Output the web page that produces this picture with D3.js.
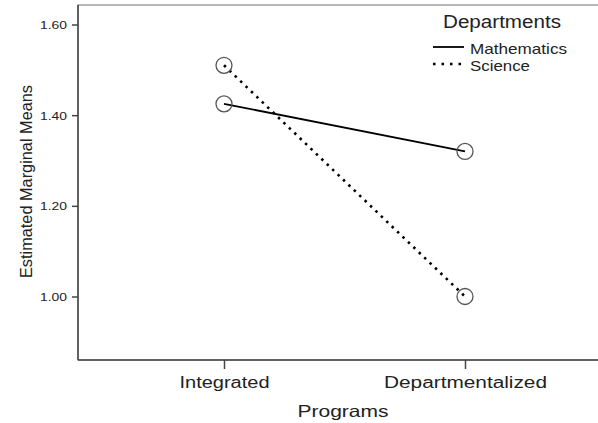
<!DOCTYPE html>
<html>
<head>
<meta charset="utf-8">
<script src="https://cdn.jsdelivr.net/npm/d3@7"></script>
<style>
  body { margin: 0; background: #fff; }
  text { font-family: "Liberation Sans", Arial, sans-serif; }
</style>
</head>
<body>
<div id="chart-area"></div>
<script>
const programs = ["Integrated", "Departmentalized"];
const departments = ["Mathematics", "Science"];
const mathMeans = [1.425, 1.32];
const scienceMeans = [1.51, 1.0];
const yTicks = [1.0, 1.2, 1.4, 1.6];

const width = 598, height = 423;
const plot = { left: 78, right: 598, top: 5, bottom: 360 };
const font = "Liberation Sans, Arial, sans-serif";

const svg = d3.select("#chart-area").append("svg")
    .attr("width", width)
    .attr("height", height);

const x = d3.scalePoint().domain(programs).range([224, 465]);
const y = d3.scaleLinear().domain([1.0, 1.6]).range([296.5, 24.5]);

// frame
svg.append("rect")
    .attr("x", plot.left).attr("y", plot.top)
    .attr("width", plot.right - plot.left + 2).attr("height", plot.bottom - plot.top)
    .attr("fill", "none").attr("stroke", "#888").attr("stroke-width", 1.2);

const yAxis = svg.append("g")
    .attr("transform", `translate(${plot.left},0)`)
    .call(d3.axisLeft(y).tickValues(yTicks).tickFormat(d3.format(".2f")).tickSize(6).tickSizeOuter(0));
yAxis.select(".domain").remove();
yAxis.append("line").attr("x1", 0).attr("x2", 0).attr("y1", plot.top).attr("y2", plot.bottom)
    .attr("stroke", "#444").attr("stroke-width", 1.5);
yAxis.selectAll(".tick line").attr("stroke", "#444").attr("stroke-width", 1.5);
yAxis.selectAll(".tick text")
    .attr("font-size", 11.5).attr("fill", "#222").attr("x", -11).attr("dy", "0.36em")
    .attr("textLength", 27).attr("lengthAdjust", "spacingAndGlyphs")
    .style("font-family", font);

const xAxis = svg.append("g")
    .attr("transform", `translate(0,${plot.bottom})`)
    .call(d3.axisBottom(x).tickSize(9).tickSizeOuter(0));
xAxis.select(".domain").remove();
xAxis.append("line").attr("x1", plot.left).attr("x2", plot.right).attr("y1", 0).attr("y2", 0)
    .attr("stroke", "#444").attr("stroke-width", 1.5);
xAxis.selectAll(".tick line").attr("stroke", "#444").attr("stroke-width", 1.5);
xAxis.selectAll(".tick text")
    .attr("font-size", 16).attr("fill", "#222").attr("y", 28).attr("dy", null)
    .attr("textLength", d => d === "Integrated" ? 90 : 163)
    .attr("lengthAdjust", "spacingAndGlyphs")
    .style("font-family", font);

svg.append("text")
    .attr("x", 343).attr("y", 417)
    .attr("text-anchor", "middle").attr("font-size", 16.5).attr("fill", "#222")
    .attr("textLength", 91).attr("lengthAdjust", "spacingAndGlyphs")
    .text("Programs");

svg.append("text")
    .attr("transform", "rotate(-90)")
    .attr("x", -181.5).attr("y", 32)
    .attr("text-anchor", "middle").attr("font-size", 16.5).attr("fill", "#222")
    .attr("textLength", 193).attr("lengthAdjust", "spacingAndGlyphs")
    .text("Estimated Marginal Means");

const series = [
    { name: departments[0], values: mathMeans, dash: null, width: 1.8, len: 97 },
    { name: departments[1], values: scienceMeans, dash: "2.5,5", width: 2.6, len: 60 }
];

const line = d3.line().x((d, i) => x(programs[i])).y(d => y(d));

series.forEach(s => {
    svg.append("path")
        .datum(s.values)
        .attr("d", line)
        .attr("fill", "none")
        .attr("stroke", "#000")
        .attr("stroke-width", s.width)
        .attr("stroke-dasharray", s.dash);
    svg.selectAll(null)
        .data(s.values)
        .enter().append("circle")
        .attr("cx", (d, i) => x(programs[i]))
        .attr("cy", d => y(d))
        .attr("r", 8)
        .attr("fill", "none")
        .attr("stroke", "#555")
        .attr("stroke-width", 1.3);
});

// legend
const legend = svg.append("g").attr("transform", "translate(433,0)");
legend.append("text")
    .attr("x", 69).attr("y", 28)
    .attr("text-anchor", "middle").attr("font-size", 17.5).attr("fill", "#222")
    .attr("textLength", 118).attr("lengthAdjust", "spacingAndGlyphs")
    .text("Departments");
const rows = legend.selectAll(".row").data(series).enter().append("g")
    .attr("transform", (d, i) => `translate(0,${47 + i * 17})`);
rows.append("line")
    .attr("x1", 0).attr("x2", 31).attr("y1", 0).attr("y2", 0)
    .attr("stroke", "#000")
    .attr("stroke-width", d => d.width)
    .attr("stroke-dasharray", d => d.dash ? "2.5,6" : null);
rows.append("text")
    .attr("x", 37).attr("y", 7)
    .attr("font-size", 15).attr("fill", "#222")
    .attr("textLength", d => d.len).attr("lengthAdjust", "spacingAndGlyphs")
    .text(d => d.name);
</script>
</body>
</html>
